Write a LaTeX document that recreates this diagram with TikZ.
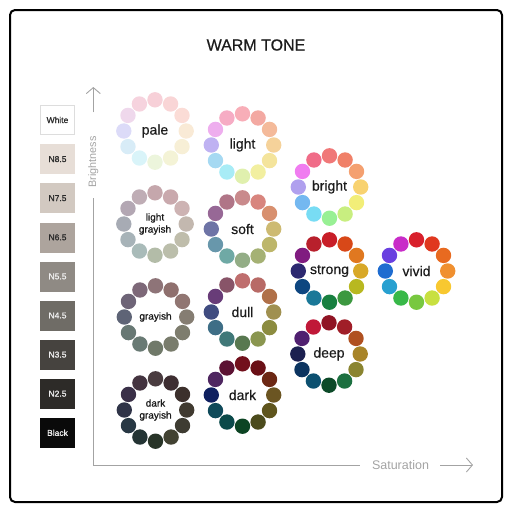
\documentclass[tikz,border=0pt]{standalone}
\usepackage{fontspec}
\setmainfont{Liberation Sans}
\newfontfamily\medfont[FakeBold=0.5]{Liberation Sans}
\newfontfamily\semifont[FakeBold=0.9]{Liberation Sans}
\usepackage{xcolor}
\usetikzlibrary{arrows.meta}

\definecolor{axisgray}{HTML}{A3A3A3}
\definecolor{inkblack}{HTML}{1C1C1C}
\definecolor{swWhite}{HTML}{FFFFFF}
\definecolor{swEdge}{HTML}{DDDDDD}
\definecolor{swN85}{HTML}{E7DED7}
\definecolor{swN75}{HTML}{D2C9C1}
\definecolor{swN65}{HTML}{ADA49D}
\definecolor{swN55}{HTML}{8F8A84}
\definecolor{swN45}{HTML}{6F6C66}
\definecolor{swN35}{HTML}{46433F}
\definecolor{swN25}{HTML}{2D2B28}
\definecolor{swBlack}{HTML}{0A0A0A}
\definecolor{swDarkText}{HTML}{2A2A2A}
\definecolor{swLightText}{HTML}{EFEFEF}

\newcommand{\setdot}[1]{\definecolor{dotcol}{HTML}{#1}}
% one ring of twelve dots, from the top going clockwise
\newcommand{\wheel}[4]{%
  \node[wheellabel] (#1) at (#2) {#3};
  \foreach \c [count=\i from 0] in {#4} {
    \expandafter\setdot\expandafter{\c}
    \fill[dotcol] (#2) ++({-90+30*\i}:31.2) circle (7.7);
  }
}

\begin{document}
\begin{tikzpicture}[x=1pt, y=-1pt,
  wheellabel/.style={text=inkblack, inner sep=0pt, font=\medfont\fontsize{14}{16}\selectfont},
  smalllabel/.style={text=inkblack, inner sep=0pt, align=center, font=\semifont\fontsize{10}{12}\selectfont},
  swatch/.style={minimum width=34pt, minimum height=29pt, inner sep=0pt, line width=0.6pt, font=\semifont\fontsize{8.5}{10}\selectfont},
  axislabel/.style={text=axisgray, inner sep=0pt},
  axisline/.style={draw=axisgray, line width=0.9pt},
  axisarrow/.style={axisline, -{Straight Barb[length=6pt, width=14pt, line width=0.9pt]}}]
\useasboundingbox (0,0) rectangle (512,512);

% Frame and title
\draw[line width=2pt, rounded corners=5pt] (10,10) rectangle (502,502);
\node[text=inkblack, font=\medfont\fontsize{16}{19}\selectfont] (title) at (256,45) {WARM TONE};

% Gray scale
\foreach \lab/\fil/\edg/\txt [count=\i from 0] in {White/swWhite/swEdge/swDarkText, N8.5/swN85/swN85/swDarkText, N7.5/swN75/swN75/swDarkText, N6.5/swN65/swN65/swDarkText, N5.5/swN55/swN55/swLightText, N4.5/swN45/swN45/swLightText, N3.5/swN35/swN35/swLightText, N2.5/swN25/swN25/swLightText, Black/swBlack/swBlack/swLightText}
  \node[swatch, fill=\fil, draw=\edg, text=\txt] (sw\i) at (57.5,{120+39.1*\i}) {\lab};

% Axes
\coordinate (origin) at (93.3,465);
\coordinate (ytop) at (93.3,87);
\coordinate (xend) at (473,465);
\node[axislabel, rotate=90, font=\fontsize{10.8}{12}\selectfont] (ylab) at (93.3,162) {Brightness};
\node[axislabel, font=\fontsize{12.5}{14}\selectfont] (xlab) at (400.5,465) {Saturation};
\draw[axisline, shorten >=10pt] (origin) -- (ylab.west);
\draw[axisarrow, shorten <=24pt] (ylab.east) -- (ytop);
\draw[axisline, shorten >=12pt] (origin) -- (xlab.west);
\draw[axisarrow, shorten <=11pt] (xlab.east) -- (xend);

% Tone wheels
\wheel{pale}{155,131}{pale}{F7D0D8,F9D5D6,FBDCD6,F9EAD6,F7EFD6,F4F3D6,ECF5DC,D9F4F9,D8ECF7,DCDBF8,EFD8EC,F6D3DE}
\wheel{light}{242.5,145}{light}{F8AEB8,F3A9A2,F4BA9A,F5D29A,F4E49C,F2EFA0,E0F0AE,A8ECF6,A6D9F2,BFB2F2,EEAEEE,F6ACC4}
\wheel{bright}{329.5,187}{bright}{F07878,F08068,F4A070,F8D270,F2EE78,C8EE80,98F094,78DCF4,74B8F0,B0A0EE,F07CF0,F06C88}
\wheel{soft}{242.5,229}{soft}{C98A8C,D8857E,D8906F,CDBA72,BDB66A,A5B174,93AD86,6FA9A5,6897AB,6E74A6,976896,B07587}
\wheel{strong}{329.5,271}{strong}{C81E28,D84818,E07820,D8A828,B8B820,3C9840,188040,1A7898,0E4680,2C2870,801C80,B8202C}
\wheel{vivid}{416.5,271}{vivid}{D8202C,E0381F,E86A20,F09030,F8C830,C8E040,78C840,38B848,28A0D0,1E6CD0,6A40E0,C82CC8}
\wheel{dull}{242.5,312}{dull}{BF6E6E,B86A66,B07048,A09050,8C8C40,8A9650,587850,407878,3E6E86,404C80,683C78,885468}
\wheel{deep}{329,354}{deep}{901424,A01E28,B05020,A88428,8A8430,1C7040,0C4A28,0C5070,0C3460,1C2050,502070,C01838}
\wheel{dark}{242.5,395}{dark}{72101C,6A1016,6C2814,6B5522,5F551D,4C4B1C,0C4423,0B4A4A,0F4A5A,0F2060,4E2660,5C1233}

% Grayish wheels, smaller two-line labels
\node[smalllabel] (lgraylab) at (155,224) {light\\grayish};
\node[smalllabel] (graylab) at (155.5,317) {grayish};
\node[smalllabel] (dgraylab) at (155.5,410) {dark\\grayish};
\wheel{lgray}{155,224}{}{C5A7AC,C9A9AD,CDB3B3,C3B8AF,BFBDAB,BBBEAB,B3BCA8,A9BBB9,A7B3B8,A7ABB4,B3A7B3,BFADB5}
\wheel{gray}{155.5,317}{}{8E7478,8F706E,917672,857D72,7E7D6E,797C6C,707969,697A74,687874,5E6476,6E6477,7D6878}
\wheel{dgray}{155.5,410}{}{4A3C40,3E2E32,3C302C,403A30,3E3C32,424232,283428,243434,283844,303448,3A3048,443440}
\end{tikzpicture}
\end{document}
